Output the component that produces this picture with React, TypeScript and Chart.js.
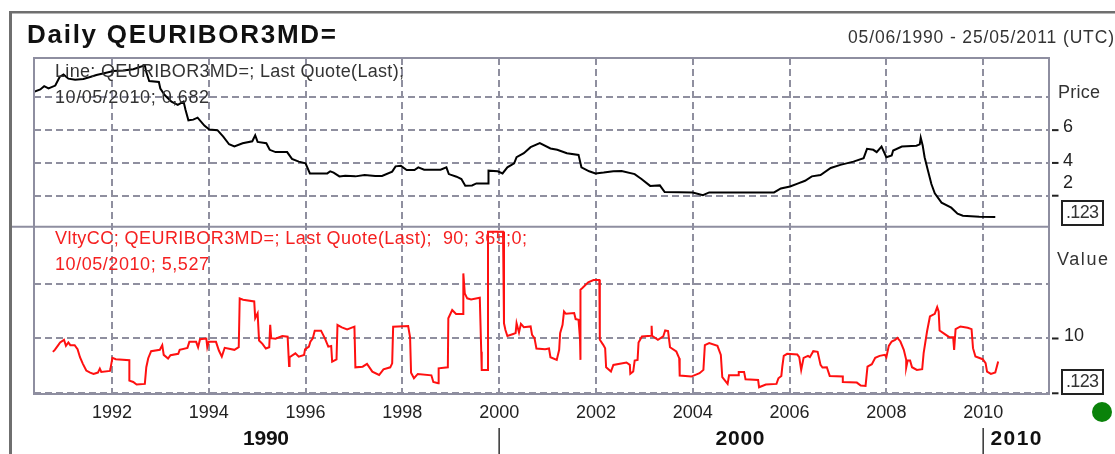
import React, { useEffect, useRef } from "react";
import { Chart, registerables } from "chart.js";

Chart.register(...registerables);

const tickYears = [1992, 1994, 1996, 1998, 2000, 2002, 2004, 2006, 2008, 2010];
const priceGrid = [2, 4, 6, 8];
const valueGrid = [0, 10, 20];

const priceYears = [
  1990.39, 1990.52, 1990.6, 1990.69, 1990.83, 1990.92, 1991.0, 1991.1, 1991.24, 1991.41, 1991.55, 1991.68, 1991.86,
  1992.03, 1992.23, 1992.44, 1992.68, 1992.71, 1992.77, 1992.97, 1993.0, 1993.09, 1993.23, 1993.36, 1993.48, 1993.52,
  1993.58, 1993.68, 1993.77, 1993.91, 1994.01, 1994.18, 1994.3, 1994.42, 1994.53, 1994.7, 1994.9, 1994.96, 1995.01,
  1995.19, 1995.26, 1995.38, 1995.62, 1995.72, 1995.86, 1996.0, 1996.09, 1996.24, 1996.45, 1996.51, 1996.58, 1996.7,
  1996.82, 1997.03, 1997.22, 1997.44, 1997.58, 1997.79, 1997.86, 1997.97, 1998.09, 1998.25, 1998.33, 1998.45, 1998.79,
  1998.91, 1998.96, 1999.12, 1999.22, 1999.3, 1999.44, 1999.53, 1999.77, 1999.78, 1999.97, 2000.07, 2000.17, 2000.31,
  2000.36, 2000.51, 2000.65, 2000.84, 2001.06, 2001.2, 2001.4, 2001.64, 2001.7, 2001.86, 2001.99, 2002.16, 2002.36,
  2002.53, 2002.8, 2002.94, 2003.12, 2003.32, 2003.42, 2004.0, 2004.21, 2004.34, 2005.68, 2005.82, 2006.01, 2006.18,
  2006.32, 2006.46, 2006.64, 2006.85, 2007.05, 2007.32, 2007.53, 2007.6, 2007.73, 2007.8, 2007.9, 2008.0, 2008.11,
  2008.14, 2008.32, 2008.62, 2008.69, 2008.71, 2008.75, 2008.79, 2008.86, 2008.93, 2009.0, 2009.14, 2009.34, 2009.47,
  2009.58, 2009.92, 2010.25,
];
const priceValues = [
  8.34, 8.48, 8.68, 8.54, 8.72, 9.24, 9.4, 9.14, 9.08, 9.12, 9.24, 9.36, 9.48,
  9.6, 9.64, 9.72, 9.96, 9.54, 9.0, 8.94, 8.54, 8.14, 7.74, 7.54, 7.74, 7.24,
  6.6, 6.64, 6.76, 6.28, 6.04, 6.0, 5.6, 5.14, 5.0, 5.2, 5.32, 5.68, 5.28,
  5.2, 4.8, 4.66, 4.66, 4.25, 4.08, 3.98, 3.36, 3.36, 3.36, 3.49, 3.41, 3.18,
  3.22, 3.18, 3.26, 3.2, 3.2, 3.47, 3.79, 3.82, 3.57, 3.57, 3.73, 3.59, 3.59,
  3.73, 3.32, 3.16, 3.02, 2.61, 2.63, 2.75, 2.75, 3.53, 3.49, 3.36, 3.73, 3.98,
  4.35, 4.59, 4.96, 5.21, 4.88, 4.8, 4.59, 4.49, 3.73, 3.49, 3.36, 3.41, 3.49,
  3.51, 3.32, 3.02, 2.6, 2.63, 2.22, 2.2, 2.03, 2.2, 2.2, 2.44, 2.56, 2.75,
  2.91, 3.18, 3.26, 3.69, 3.88, 4.08, 4.29, 4.86, 4.8, 4.66, 5.0, 4.35, 4.45,
  4.76, 5.0, 5.05, 5.13, 5.54, 5.07, 4.35, 3.53, 2.71, 2.15, 1.58, 1.27, 0.9,
  0.78, 0.72, 0.7,
];

const vltyYears = [
  1990.78, 1990.82, 1990.88, 1990.93, 1991.01, 1991.05, 1991.1, 1991.14, 1991.23, 1991.29, 1991.34, 1991.4, 1991.47,
  1991.55, 1991.62, 1991.71, 1991.75, 1991.78, 1991.96, 1991.97, 1992.01, 1992.08, 1992.36, 1992.36, 1992.44, 1992.51,
  1992.68, 1992.71, 1992.75, 1992.81, 1992.99, 1993.04, 1993.07, 1993.16, 1993.21, 1993.37, 1993.4, 1993.56, 1993.6,
  1993.74, 1993.78, 1993.82, 1993.95, 1993.97, 1994.0, 1994.15, 1994.21, 1994.27, 1994.33, 1994.53, 1994.62, 1994.64,
  1994.71, 1994.94, 1994.96, 1995.01, 1995.04, 1995.11, 1995.18, 1995.25, 1995.27, 1995.29, 1995.38, 1995.52, 1995.63,
  1995.66, 1995.67, 1995.79, 1995.86, 1995.97, 1995.99, 1996.07, 1996.1, 1996.15, 1996.19, 1996.32, 1996.4, 1996.47,
  1996.53, 1996.55, 1996.64, 1996.66, 1996.75, 1996.86, 1997.01, 1997.03, 1997.18, 1997.27, 1997.38, 1997.52, 1997.61,
  1997.75, 1997.79, 1997.81, 1998.12, 1998.16, 1998.18, 1998.24, 1998.32, 1998.6, 1998.64, 1998.74, 1998.75, 1998.94,
  1998.95, 1999.03, 1999.11, 1999.26, 1999.26, 1999.29, 1999.34, 1999.42, 1999.6, 1999.63, 1999.64, 1999.77, 1999.77,
  2000.08, 2000.1, 2000.13, 2000.17, 2000.29, 2000.34, 2000.36, 2000.41, 2000.45, 2000.51, 2000.65, 2000.68, 2000.73,
  2000.77, 2000.95, 2001.03, 2001.06, 2001.19, 2001.24, 2001.26, 2001.31, 2001.34, 2001.38, 2001.55, 2001.58, 2001.64,
  2001.67, 2001.68, 2001.68, 2001.72, 2001.84, 2001.95, 2002.07, 2002.08, 2002.15, 2002.19, 2002.21, 2002.31, 2002.36,
  2002.63, 2002.7, 2002.71, 2002.77, 2002.8, 2002.86, 2002.88, 2002.95, 2003.14, 2003.15, 2003.16, 2003.28, 2003.39,
  2003.43, 2003.49, 2003.53, 2003.66, 2003.72, 2003.73, 2003.97, 2004.14, 2004.22, 2004.25, 2004.34, 2004.51, 2004.58,
  2004.61, 2004.72, 2004.75, 2004.94, 2004.95, 2005.06, 2005.09, 2005.35, 2005.37, 2005.51, 2005.73, 2005.77, 2005.83,
  2005.85, 2005.88, 2005.95, 2006.16, 2006.2, 2006.24, 2006.29, 2006.38, 2006.42, 2006.49, 2006.58, 2006.64, 2006.68,
  2006.77, 2006.83, 2007.1, 2007.1, 2007.39, 2007.47, 2007.57, 2007.61, 2007.7, 2007.77, 2007.86, 2007.97, 2008.0,
  2008.05, 2008.11, 2008.18, 2008.23, 2008.29, 2008.36, 2008.41, 2008.41, 2008.44, 2008.49, 2008.53, 2008.63, 2008.74,
  2008.77, 2008.84, 2008.9, 2009.0, 2009.05, 2009.08, 2009.1, 2009.2, 2009.3, 2009.38, 2009.4, 2009.43, 2009.53,
  2009.68, 2009.76, 2009.79, 2009.84, 2009.99, 2010.05, 2010.08, 2010.16, 2010.25, 2010.31,
];
const vltyValues = [
  7.56, 7.93, 8.66, 9.27, 9.76, 8.66, 9.27, 8.78, 8.78, 8.05, 6.59, 5.37, 4.15,
  3.78, 3.54, 3.78, 4.51, 3.9, 4.09, 4.51, 6.46, 6.22, 6.04, 2.32, 2.07, 1.59,
  1.71, 4.76, 6.4, 7.68, 7.93, 8.78, 7.01, 6.34, 6.95, 7.2, 7.93, 8.29, 9.39,
  9.39, 8.41, 9.88, 10.0, 8.41, 9.39, 9.39, 7.8, 6.7, 8.3, 7.93, 8.41, 17.3,
  17.07, 16.77, 13.7, 14.6, 9.63, 9.02, 8.17, 8.41, 12.5, 10.06, 9.97, 10.46, 10.33,
  4.98, 6.57, 7.29, 6.69, 6.99, 8.02, 8.51, 9.42, 10.03, 11.43, 11.43, 10.03, 8.51,
  8.63, 5.78, 6.2, 12.46, 12.04, 11.67, 12.16, 4.74, 4.86, 5.35, 3.95, 3.34, 4.38,
  4.74, 5.47, 12.16, 12.28, 10.21, 3.77, 2.74, 3.53, 3.28, 2.07, 1.82, 4.56, 4.74,
  13.68, 15.2, 14.47, 14.47, 21.88, 18.24, 17.33, 17.14, 17.45, 7.6, 4.26, 4.26, 29.5,
  29.5, 12.77, 11.55, 10.46, 10.82, 10.98, 12.8, 11.1, 12.68, 12.07, 12.2, 10.67, 10.06,
  8.17, 8.05, 8.17, 6.59, 6.1, 7.93, 10.98, 12.5, 14.94, 14.5, 14.63, 13.54, 13.41,
  10.0, 6.1, 18.9, 19.2, 20.24, 20.67, 20.67, 9.76, 8.84, 8.23, 4.76, 3.96, 5.18,
  5.61, 5.18, 3.54, 3.96, 5.98, 6.1, 9.27, 10.37, 10.49, 12.32, 10.49, 9.76, 10.37,
  11.46, 11.34, 8.41, 7.62, 6.4, 3.23, 3.05, 3.66, 4.27, 8.78, 9.15, 8.66, 7.01,
  2.93, 1.71, 3.29, 3.29, 3.9, 3.9, 2.56, 2.44, 1.1, 1.59, 1.71, 2.74, 3.17,
  4.88, 6.83, 7.2, 7.07, 6.59, 4.27, 6.46, 6.83, 6.59, 7.68, 7.56, 5.18, 4.7,
  4.76, 3.17, 3.05, 2.07, 1.95, 1.4, 1.34, 4.88, 5.3, 6.46, 6.83, 7.01, 6.59,
  8.66, 9.45, 9.76, 10.12, 9.45, 7.93, 6.1, 4.7, 5.98, 5.98, 4.76, 4.27, 4.39,
  7.32, 11.28, 14.02, 14.51, 15.73, 14.94, 11.46, 10.85, 10.24, 10.24, 7.93, 11.71, 12.2,
  11.95, 11.71, 8.23, 6.71, 6.22, 5.49, 3.96, 3.54, 3.78, 5.79,
];

const titleText = "Daily QEURIBOR3MD=";
const rangeText = "05/06/1990 - 25/05/2011 (UTC)";
const priceLegend = ["Line: QEURIBOR3MD=; Last Quote(Last);", "10/05/2010; 0,682"];
const vltyLegend = ["VltyCC; QEURIBOR3MD=; Last Quote(Last);  90; 365;0;", "10/05/2010; 5,527"];
const priceTickLabels = [
  { v: 6, text: "6", dy: -3 },
  { v: 4, text: "4", dy: -2 },
  { v: 2, text: "2", dy: -13 },
];
const valueTickLabels = [{ v: 10, text: "10", dy: -2 }];
const decades = [
  { text: "1990", cx: 266, w: 46 },
  { text: "2000", cx: 740, w: 49 },
  { text: "2010", cx: 1016, w: 51 },
];
const decadeBreaks = [2000, 2010];

const GRID = "#8f8f9f";
const FRAME = "#8e8ea0";
const SANS = '"Liberation Sans", Arial, sans-serif';

function fitText(ctx: CanvasRenderingContext2D, text: string, x: number, y: number, w: number, font: string, color: string) {
  ctx.font = font;
  ctx.fillStyle = color;
  ctx.textAlign = "left";
  ctx.textBaseline = "middle";
  (ctx as any).letterSpacing = "0px";
  const m = ctx.measureText(text).width;
  (ctx as any).letterSpacing = `${(w - m) / Math.max(text.length - 1, 1)}px`;
  ctx.fillText(text, x, y);
  (ctx as any).letterSpacing = "0px";
}

const decorPlugin = {
  id: "decor",
  afterDraw(chart: any) {
    const ctx: CanvasRenderingContext2D = chart.ctx;
    const { left, right, top, bottom } = chart.chartArea;
    const xs = chart.scales.x;
    const yp = chart.scales.yPrice;
    const yv = chart.scales.yValue;
    const sep = yp.bottom;
    ctx.save();

    // outer frame
    ctx.fillStyle = "#6f6f6f";
    ctx.fillRect(9, 11, 3, 443);
    ctx.fillRect(9, 11, 1106, 2.5);

    // panel frames
    ctx.strokeStyle = FRAME;
    ctx.lineWidth = 2;
    ctx.setLineDash([]);
    ctx.strokeRect(left, top, right - left, bottom - top);
    ctx.beginPath();
    ctx.moveTo(12, sep);
    ctx.lineTo(right, sep);
    ctx.stroke();

    // value-axis tick marks and labels
    ctx.fillStyle = "#222";
    for (const t of priceGrid.slice(0, 3)) ctx.fillRect(1052, yp.getPixelForValue(t) - 1, 6.5, 2);
    for (const t of [0, 10]) ctx.fillRect(1052, yv.getPixelForValue(t) - 1, 6.5, 2);
    ctx.font = `18px ${SANS}`;
    ctx.textAlign = "center";
    ctx.textBaseline = "middle";
    for (const l of priceTickLabels) ctx.fillText(l.text, 1068, yp.getPixelForValue(l.v) + l.dy);
    for (const l of valueTickLabels) ctx.fillText(l.text, 1074, yv.getPixelForValue(l.v) + l.dy);

    // last-value boxes
    for (const boxTop of [201, 370]) {
      ctx.strokeStyle = "#222";
      ctx.lineWidth = 2;
      ctx.strokeRect(1062, boxTop, 41, 24);
      fitText(ctx, ".123", 1066, boxTop + 12, 33, `18px ${SANS}`, "#333");
    }

    // texts
    fitText(ctx, titleText, 27, 36, 309, `bold 26px ${SANS}`, "#111");
    fitText(ctx, rangeText, 848, 38, 266, `17.5px ${SANS}`, "#333");
    fitText(ctx, priceLegend[0], 55, 72, 349, `18px ${SANS}`, "#333");
    fitText(ctx, priceLegend[1], 55, 98, 154, `18px ${SANS}`, "#333");
    fitText(ctx, vltyLegend[0], 55, 239, 472, `18px ${SANS}`, "#f52020");
    fitText(ctx, vltyLegend[1], 55, 265.5, 154, `18px ${SANS}`, "#f52020");
    fitText(ctx, "Price", 1058, 93, 42, `18px ${SANS}`, "#333");
    fitText(ctx, "Value", 1057, 260, 51, `18px ${SANS}`, "#333");

    // decade band
    for (const d of decades) fitText(ctx, d.text, d.cx - d.w / 2, 439, d.w, `bold 21px ${SANS}`, "#111");
    ctx.fillStyle = "#333";
    for (const y of decadeBreaks) ctx.fillRect(xs.getPixelForValue(y) - 0.75, 428, 1.5, 26);

    // status light
    ctx.fillStyle = "#0a820a";
    ctx.beginPath();
    ctx.arc(1102, 412, 10, 0, Math.PI * 2);
    ctx.fill();
    ctx.restore();
  },
};

export default function App() {
  const ref = useRef<HTMLCanvasElement>(null);
  useEffect(() => {
    const grid = { color: GRID, lineWidth: 2, drawTicks: false };
    const dashedBorder = { display: false, dash: [7, 4] };
    const chart = new Chart(ref.current!, {
      type: "line",
      data: {
        datasets: [
          {
            label: "QEURIBOR3MD=",
            data: priceYears.map((x, i) => ({ x, y: priceValues[i] })),
            yAxisID: "yPrice",
            borderColor: "#000",
            borderWidth: 2,
            pointRadius: 0,
            tension: 0,
          },
          {
            label: "VltyCC",
            data: vltyYears.map((x, i) => ({ x, y: vltyValues[i] })),
            yAxisID: "yValue",
            borderColor: "#ff1010",
            borderWidth: 2,
            pointRadius: 0,
            tension: 0,
          },
        ],
      },
      options: {
        animation: false,
        responsive: false,
        parsing: false,
        layout: { padding: { left: 34, top: 58, right: 0, bottom: 0 } },
        plugins: { legend: { display: false }, title: { display: false }, tooltip: { enabled: false } },
        scales: {
          x: {
            type: "linear",
            min: 1990.39,
            max: 2011.36,
            grid,
            border: dashedBorder,
            afterBuildTicks: (s: any) => {
              s.ticks = tickYears.map((value) => ({ value }));
            },
            afterFit: (s: any) => {
              s.height = 60;
            },
            ticks: {
              autoSkip: false,
              maxRotation: 0,
              padding: 8,
              color: "#222",
              font: { family: "Liberation Sans", size: 18 },
              callback: (v: any) => String(v),
            },
          },
          yPrice: {
            type: "linear",
            position: "right",
            stack: "panels",
            stackWeight: 168.7,
            weight: 1,
            min: 0.11,
            max: 10.4,
            grid,
            border: dashedBorder,
            afterBuildTicks: (s: any) => {
              s.ticks = priceGrid.map((value) => ({ value }));
            },
            afterFit: (s: any) => {
              s.width = 66;
            },
            ticks: { display: false },
          },
          yValue: {
            type: "linear",
            position: "right",
            stack: "panels",
            stackWeight: 167.3,
            weight: 2,
            min: -0.13,
            max: 30.4,
            grid,
            border: dashedBorder,
            afterBuildTicks: (s: any) => {
              s.ticks = valueGrid.map((value) => ({ value }));
            },
            afterFit: (s: any) => {
              s.width = 66;
            },
            ticks: { display: false },
          },
        },
      } as any,
      plugins: [decorPlugin],
    });
    return () => chart.destroy();
  }, []);
  return (
    <div style={{ position: "absolute", left: 0, top: 0, width: 1115, height: 454, background: "#fff", overflow: "hidden" }}>
      <canvas ref={ref} width={1115} height={454} style={{ display: "block" }} />
    </div>
  );
}
